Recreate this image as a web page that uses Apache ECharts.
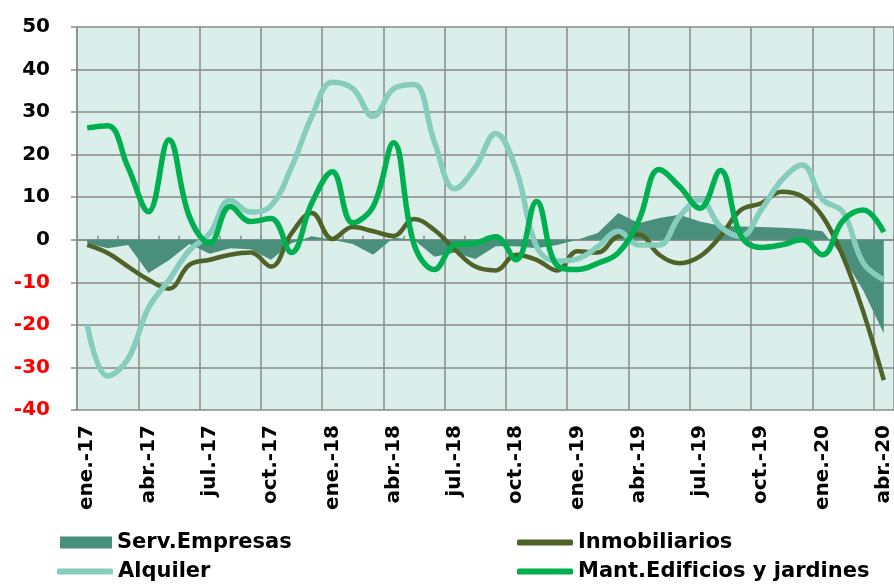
<!DOCTYPE html>
<html lang="es">
<head>
    <meta charset="UTF-8">
    <title>Servicios</title>
    <script src="https://cdn.jsdelivr.net/npm/echarts@6/dist/echarts.min.js"></script>
    <style>
        body{margin:0;background:#fff;}
        #main{width:894px;height:585px;}
    </style>
</head>
<body>
    <div id="main"></div>
    <script>
        // meses ene.-17 .. abr.-20
        var mesesCortos = ['ene.', 'feb.', 'mar.', 'abr.', 'may.', 'jun.', 'jul.', 'ago.', 'sep.', 'oct.', 'nov.', 'dic.'];
        var anios = ['17', '18', '19', '20'];
        var meses = [];
        for (var a = 0; a < anios.length; a++) {
            for (var m = 0; m < 12; m++) {
                if (a == 3 && m > 3) break;
                meses.push(mesesCortos[m] + '-' + anios[a]);
            }
        }

        var servEmpresas = [-0.8, -2, -1.2, -7.8, -4.8, -1, -3.3, -2, -2.2, -4.7,
            -0.8, 0.8, 0, -1, -3.5, 0.5, 0, -4, -3, -4.5,
            -1.5, -1.5, -2, -1.2, 0, 1.6, 6.3, 3.9, 5.1, 5.9,
            4.3, 3.3, 3.1, 3.0, 2.8, 2.6, 2, -4, -12, -22];
        var inmobiliarios = [-1.2, -3.1, -6.3, -9.4, -11.5, -5.9, -4.7, -3.5, -3.0, -6.3,
            1.5, 6.3, 0.2, 3.0, 2.0, 0.9, 4.9, 2.3, -2.3, -6.3,
            -7.2, -3.5, -4.7, -7.2, -2.7, -3, 0.8, 1.2, -3.5, -5.5,
            -3.9, 0.8, 7, 8.6, 11.3, 10.2, 5.5, -3.9, -17, -33];
        var alquiler = [-20, -32, -28, -16, -9.5, -2.5, 1.5, 9.3, 6.5, 8,
            17, 29, 37, 35.5, 29, 35.5, 36.5, 23, 12, 17,
            25, 16.5, -1.6, -5, -4.5, -1.6, 2, -1.2, -1.2, 5.5,
            9.4, 3.1, 0.8, 7, 14, 17.6, 9.5, 6.5, -5.5, -9.4];
        var mantEdificios = [26.3, 26.8, 17, 6.6, 23.5, 5.5, -0.8, 7.8, 4.3, 5,
            -3, 8.7, 16, 4, 7.8, 22.8, -1, -7, -1.2, -0.8,
            0.7, -4.7, 9, -6, -7, -5.5, -3.1, 4.5, 16.5, 12.5,
            7.4, 16.3, 1, -1.8, -1.2, 0, -3.5, 4.5, 7, 1.8];

        var gris = '#8a8a8a';
        var fuente = 'DejaVu Sans';
        var myChart = echarts.init(document.getElementById('main'), null, {renderer: 'canvas'});

        function leyenda(nombre, left, top, icon, w, h) {
            return {
                data: [nombre],
                left: left,
                top: top,
                padding: 0,
                icon: icon,
                itemWidth: w,
                itemHeight: h,
                textStyle: {fontFamily: fuente, fontWeight: 'bold', fontSize: 21, color: '#000'}
            };
        }

        var option = {
            animation: false,
            legend: [
                leyenda('Serv.Empresas', 60, 532, 'rect', 52, 12),
                leyenda('Inmobiliarios', 517, 532, 'roundRect', 56, 6),
                leyenda('Alquiler', 57, 561, 'roundRect', 56, 6),
                leyenda('Mant.Edificios y jardines', 517, 561, 'roundRect', 56, 6)
            ],
            grid: {
                left: 77,
                top: 27,
                width: 820,
                height: 383,
                show: true,
                backgroundColor: '#daeeea',
                borderWidth: 0
            },
            xAxis: [{
                type: 'category',
                data: meses,
                boundaryGap: true,
                axisLine: {show: false, onZero: false},
                axisTick: {show: false},
                axisLabel: {
                    interval: 2,
                    rotate: 90,
                    margin: 15,
                    fontFamily: fuente,
                    fontWeight: 'bold',
                    fontSize: 20,
                    color: '#000'
                },
                splitLine: {show: true, interval: 2, lineStyle: {color: gris, width: 1.5}}
            }, {
                type: 'category',
                data: meses,
                boundaryGap: true,
                axisLine: {show: true, onZero: true, lineStyle: {color: gris, width: 1.5}},
                axisTick: {show: true, interval: 0, length: 4, lineStyle: {color: gris, width: 1.5}},
                axisLabel: {show: false},
                splitLine: {show: false}
            }],
            yAxis: {
                type: 'value',
                min: -40,
                max: 50,
                interval: 10,
                axisLine: {show: true, lineStyle: {color: gris, width: 1.5}},
                axisTick: {show: true, length: 6, lineStyle: {color: gris, width: 1.5}},
                splitLine: {show: true, lineStyle: {color: gris, width: 1.5}},
                axisLabel: {
                    margin: 27,
                    fontFamily: fuente,
                    fontWeight: 'bold',
                    fontSize: 20,
                    color: function (v) {
                        return Number(v) < 0 ? '#ff0000' : '#000000';
                    }
                }
            },
            series: [{
                name: 'Serv.Empresas',
                type: 'line',
                data: servEmpresas,
                symbol: 'none',
                itemStyle: {color: '#4a8f7b'},
                lineStyle: {width: 0},
                areaStyle: {color: '#4a8f7b', opacity: 1}
            }, {
                name: 'Inmobiliarios',
                type: 'line',
                data: inmobiliarios,
                symbol: 'none',
                smooth: 0.4,
                itemStyle: {color: '#4f6228'},
                lineStyle: {width: 4.5, color: '#4f6228'}
            }, {
                name: 'Alquiler',
                type: 'line',
                data: alquiler,
                symbol: 'none',
                smooth: 0.4,
                itemStyle: {color: '#86cdbd'},
                lineStyle: {width: 5.5, color: '#86cdbd'}
            }, {
                name: 'Mant.Edificios y jardines',
                type: 'line',
                data: mantEdificios,
                symbol: 'none',
                smooth: 0.4,
                itemStyle: {color: '#00b050'},
                lineStyle: {width: 5.5, color: '#00b050'}
            }]
        };
        myChart.setOption(option);
    </script>
</body>
</html>
